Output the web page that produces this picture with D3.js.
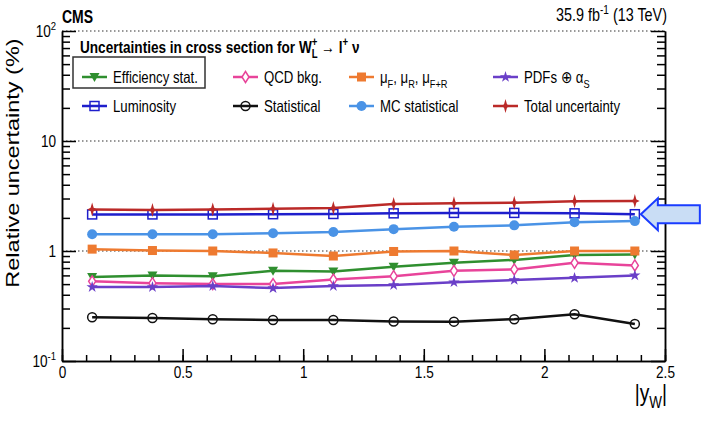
<!DOCTYPE html>
<html>
<head>
<meta charset="utf-8">
<script src="https://cdn.jsdelivr.net/npm/d3@7"></script>
<style>
  body { margin: 0; background: #fff; }
  svg text { font-family: "Liberation Sans", Arial, Helvetica, sans-serif; fill: #000; }
</style>
</head>
<body>
<div id="chart"></div>
<script>
// |y_W| bin centres
var yBins = [0.125, 0.375, 0.625, 0.875, 1.125, 1.375, 1.625, 1.875, 2.125, 2.375];

// relative uncertainties (%) per bin
var effStat     = [0.58, 0.60, 0.59, 0.66, 0.65, 0.72, 0.78, 0.83, 0.92, 0.93];
var qcdBkg      = [0.53, 0.51, 0.50, 0.50, 0.55, 0.59, 0.66, 0.68, 0.78, 0.74];
var scaleUnc    = [1.04, 1.01, 1.00, 0.96, 0.90, 0.99, 1.00, 0.92, 1.00, 1.00];
var pdfAlphaS   = [0.47, 0.47, 0.48, 0.46, 0.48, 0.49, 0.52, 0.545, 0.57, 0.60];
var luminosity  = [2.15, 2.15, 2.15, 2.16, 2.17, 2.20, 2.22, 2.22, 2.20, 2.16];
var statistical = [0.250, 0.246, 0.240, 0.236, 0.236, 0.229, 0.228, 0.240, 0.266, 0.217];
var mcStat      = [1.42, 1.42, 1.42, 1.45, 1.49, 1.58, 1.66, 1.71, 1.83, 1.87];
var totalUnc    = [2.39, 2.36, 2.39, 2.42, 2.46, 2.67, 2.71, 2.75, 2.83, 2.85];

var xTicks = [0, 0.5, 1, 1.5, 2, 2.5];
var yTicks = [0.1, 1, 10, 100];
var yTickLabels = ["10^{-1}", "1", "10", "10^{2}"];

var width = 702, height = 422;
var squeeze = 0.8; // the original is horizontally compressed

var svg = d3.select("#chart")
  .append("svg")
    .attr("width", width)
    .attr("height", height);

var x = d3.scaleLinear().domain([0, 2.5]).range([62, 665]);
var y = d3.scaleLog().domain([0.1, 100]).range([361, 31]);

// crude ROOT-style latex: _{..} and ^{..}
function richText(sel, str, size) {
  var re = /([_^])\{([^}]*)\}/g, last = 0, m, pending = 0;
  function plain(s) {
    var t = sel.append("tspan").text(s);
    if (pending) t.attr("dy", pending);
    pending = 0;
  }
  while ((m = re.exec(str))) {
    if (m.index > last) plain(str.slice(last, m.index));
    var shift = m[1] === "_" ? size * 0.3 : -size * 0.4;
    sel.append("tspan")
      .attr("font-size", size * 0.7)
      .attr("dy", shift + pending)
      .text(m[2]);
    pending = -shift;
    last = re.lastIndex;
  }
  if (last < str.length) plain(str.slice(last));
}

// condensed text placed at (tx, ty)
function label(tx, ty, size, anchor) {
  return svg.append("text")
    .attr("transform", "translate(" + tx + "," + ty + ") scale(" + squeeze + ",1)")
    .attr("text-anchor", anchor || "start")
    .attr("font-size", size);
}

// markers
function star4(r) {
  var s = r * 0.22;
  return "M0," + (-r) + "L" + s + "," + (-s) + "L" + (r * 0.7) + ",0L" + s + "," + s +
         "L0," + r + "L" + (-s) + "," + s + "L" + (-r * 0.7) + ",0L" + (-s) + "," + (-s) + "Z";
}
function drawMarker(g, type, color) {
  if (type === "triDown") g.append("path").attr("d", "M-5,-4L5,-4L0,5Z").attr("fill", color);
  else if (type === "diamond") g.append("path").attr("d", "M0,-5.5L3.5,0L0,5.5L-3.5,0Z")
      .attr("fill", "#fff").attr("stroke", color).attr("stroke-width", 1.5);
  else if (type === "square") g.append("rect").attr("x", -4.5).attr("y", -4.5).attr("width", 9).attr("height", 9).attr("fill", color);
  else if (type === "openSquare") g.append("rect").attr("x", -4.5).attr("y", -4.5).attr("width", 9).attr("height", 9)
      .attr("fill", "none").attr("stroke", color).attr("stroke-width", 1.5);
  else if (type === "star") g.append("path").attr("d", d3.symbol(d3.symbolStar, 40)()).attr("fill", color);
  else if (type === "openCircle") g.append("circle").attr("r", 4.5).attr("fill", "none").attr("stroke", color).attr("stroke-width", 1.5);
  else if (type === "circle") g.append("circle").attr("r", 5).attr("fill", color);
  else if (type === "star4") g.append("path").attr("d", star4(7)).attr("fill", color);
}

var series = [
  {name: "Efficiency stat.", values: effStat, color: "#2f8f2f", marker: "triDown", col: 0, row: 0},
  {name: "QCD bkg.", values: qcdBkg, color: "#e8449a", marker: "diamond", col: 1, row: 0},
  {name: "\u03bc_{F}, \u03bc_{R}, \u03bc_{F+R}", values: scaleUnc, color: "#ee7a30", marker: "square", col: 2, row: 0},
  {name: "PDFs \u2295 \u03b1_{S}", values: pdfAlphaS, color: "#6a3fc8", marker: "star", col: 3, row: 0},
  {name: "Luminosity", values: luminosity, color: "#1e1ecc", marker: "openSquare", col: 0, row: 1},
  {name: "Statistical", values: statistical, color: "#111", marker: "openCircle", col: 1, row: 1},
  {name: "MC statistical", values: mcStat, color: "#4a93e6", marker: "circle", col: 2, row: 1},
  {name: "Total uncertainty", values: totalUnc, color: "#bb2a28", marker: "star4", col: 3, row: 1}
];

// dotted grid lines
svg.append("g")
  .selectAll("line")
  .data([1, 10, 100])
  .enter()
  .append("line")
    .attr("x1", x(0)).attr("x2", x(2.5))
    .attr("y1", function(d) { return y(d); })
    .attr("y2", function(d) { return y(d); })
    .attr("stroke", "#333")
    .attr("stroke-width", 1.2)
    .attr("stroke-dasharray", "1.5,2.5");

// axes
var minorX = d3.range(0, 2.5001, 0.1);
svg.append("g")
  .attr("transform", "translate(0," + y(0.1) + ")")
  .call(d3.axisBottom(x).tickValues(minorX).tickSizeInner(-6).tickSizeOuter(0).tickFormat(""));
var xAxis = svg.append("g")
  .attr("transform", "translate(0," + y(0.1) + ")")
  .call(d3.axisBottom(x).tickValues(xTicks).tickSizeInner(-12).tickSizeOuter(0).tickPadding(6)
    .tickFormat(function(d) { return d; }));
xAxis.selectAll("text").attr("font-size", 16).attr("transform", "scale(0.85,1)");

var minorY = [];
[0.1, 1, 10].forEach(function(dec) { for (var k = 2; k <= 9; k++) minorY.push(dec * k); });
var yAxis = svg.append("g")
  .attr("transform", "translate(" + x(0) + ",0)")
  .call(d3.axisLeft(y).tickValues(yTicks).tickSizeInner(-14).tickSizeOuter(0).tickPadding(7).tickFormat(""));
svg.append("g")
  .attr("transform", "translate(" + x(0) + ",0)")
  .call(d3.axisLeft(y).tickValues(minorY).tickSizeInner(-8).tickSizeOuter(0).tickFormat(""));
yAxis.selectAll(".tick text").each(function(d, i) {
  var t = d3.select(this).attr("font-size", 16).attr("transform", "scale(0.85,1)");
  richText(t, yTickLabels[i], 16);
});
svg.append("g")
  .attr("transform", "translate(" + x(2.5) + ",0)")
  .call(d3.axisRight(y).tickValues(yTicks).tickSizeInner(-14).tickSizeOuter(0).tickFormat(""));
svg.append("g")
  .attr("transform", "translate(" + x(2.5) + ",0)")
  .call(d3.axisRight(y).tickValues(minorY).tickSizeInner(-8).tickSizeOuter(0).tickFormat(""));
svg.selectAll(".domain, .tick line").attr("stroke", "#000").attr("stroke-width", 1.5);

// axis titles
svg.append("text")
  .attr("transform", "translate(19,163) scale(" + squeeze + ",1) rotate(-90)")
  .attr("text-anchor", "middle")
  .attr("font-size", 23.5)
  .text("Relative uncertainty (%)");
richText(label(667, 401, 24, "end"), "|y_{W}|", 24);

label(62, 23, 17.5).attr("font-weight", "bold").text("CMS");
richText(label(667, 21, 18, "end"), "35.9 fb^{-1} (13 TeV)", 18);

// lines and markers
var line = d3.line()
  .x(function(d, i) { return x(yBins[i]); })
  .y(function(d) { return y(d); });

series.forEach(function(s) {
  svg.append("path")
    .attr("d", line(s.values))
    .attr("fill", "none")
    .attr("stroke", s.color)
    .attr("stroke-width", 2.5);
  s.values.forEach(function(v, i) {
    var g = svg.append("g").attr("transform", "translate(" + x(yBins[i]) + "," + y(v) + ")");
    drawMarker(g, s.marker, s.color);
  });
});

// legend
var title = label(80, 53, 17).attr("font-weight", "bold");
title.append("tspan").text("Uncertainties in cross section for W");
title.append("tspan").attr("font-size", 12).attr("dy", -7).text("+");
title.append("tspan").attr("font-size", 12).attr("dx", -7).attr("dy", 12).text("L");
title.append("tspan").attr("dy", -5).text(" \u2192 l");
title.append("tspan").attr("font-size", 12).attr("dy", -7).text("+");
title.append("tspan").attr("dy", 7).text(" \u03bd");

var colX = [82, 233, 349, 493], rowY = [77, 106];
series.forEach(function(s) {
  var lx = colX[s.col], ly = rowY[s.row];
  svg.append("line").attr("x1", lx).attr("x2", lx + 25).attr("y1", ly).attr("y2", ly)
    .attr("stroke", s.color).attr("stroke-width", 2.5);
  drawMarker(svg.append("g").attr("transform", "translate(" + (lx + 12.5) + "," + ly + ")"), s.marker, s.color);
  richText(label(lx + 31, ly + 6, 16.5), s.name, 16.5);
});

// highlight box around the first legend entry
svg.append("rect").attr("x", 73).attr("y", 57).attr("width", 132).attr("height", 31)
  .attr("fill", "none").attr("stroke", "#333").attr("stroke-width", 1.5);

// arrow pointing at the last luminosity point
var ax = x(yBins[9]) + 6, ay = y(luminosity[9]);
svg.append("path")
  .attr("d", "M" + ax + "," + ay + "l17,-16v7h42v18h-42v7z")
  .attr("fill", "#c9ddf5")
  .attr("stroke", "#1a3cff")
  .attr("stroke-width", 2);
</script>
</body>
</html>
